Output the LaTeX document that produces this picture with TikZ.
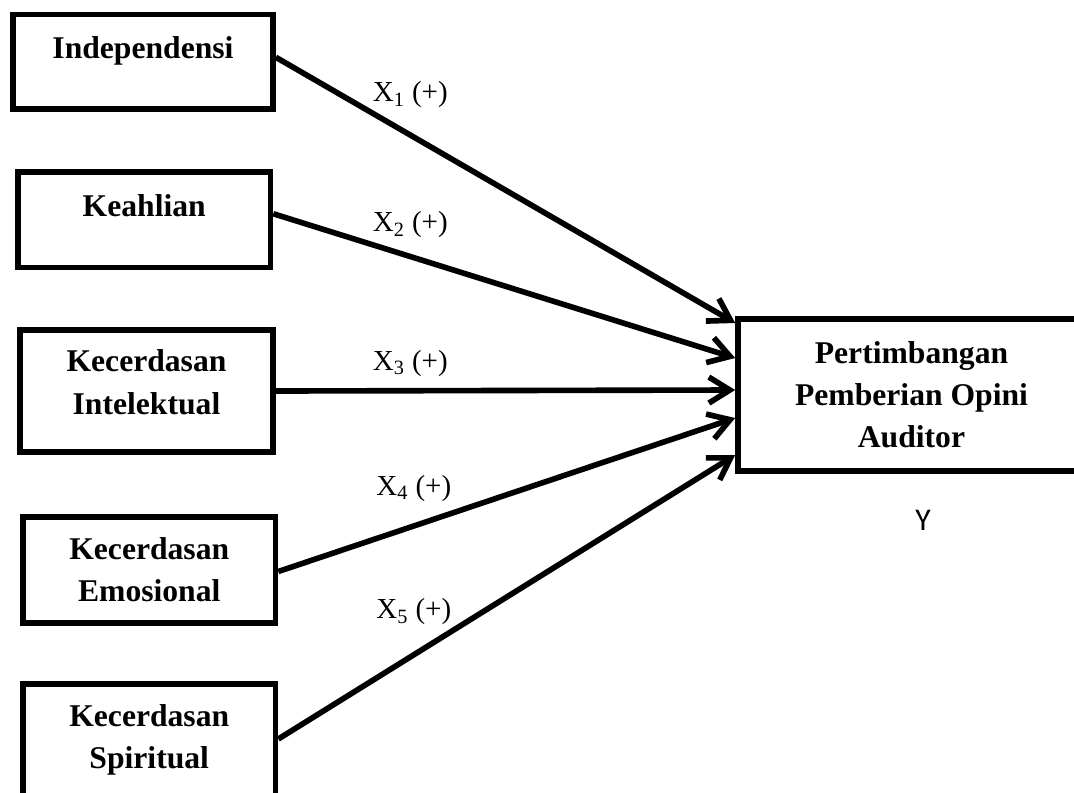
\documentclass[tikz,border=0pt]{standalone}
\usepackage{fontspec}
\setmainfont{Liberation Serif}
\newfontfamily\ysans{Carlito}
\usetikzlibrary{arrows.meta, positioning}

\begin{document}
\begin{tikzpicture}[
    box/.style={draw, line width=3.2pt, rectangle, align=center, inner sep=0pt,
      font=\fontsize{18}{24}\selectfont\bfseries},
    tophigh/.style={text height=0.5cm, text depth=0.64cm},
    link/.style={line width=3.2pt, -{Straight Barb[length=0.42cm, width=0.52cm]}},
    lbl/.style={anchor=base west, inner sep=0pt, font=\fontsize{16.5}{20}\selectfont}
  ]
    \useasboundingbox (0, 0) rectangle (21.48, -15.84);
    \clip (0, 0) rectangle (21.48, -15.84);

    % independent variables
    \node[box, tophigh, minimum width=5.2cm, minimum height=1.89cm] (ind) at (2.86, -1.235) {Independensi};
    \node[box, tophigh, minimum width=5.05cm, minimum height=1.91cm] (ahli) at (2.885, -4.395) {Keahlian};
    \node[box, text height=1.28cm, text depth=0.36cm, minimum width=5.06cm, minimum height=2.44cm] (intel) at (2.93, -7.82) {Kecerdasan\\Intelektual};
    \node[box, minimum width=5.05cm, minimum height=2.12cm] (emo) at (2.985, -11.4) {Kecerdasan\\Emosional};
    \node[box, minimum width=5.05cm, minimum height=2.24cm] (spi) at (2.985, -14.8) {Kecerdasan\\Spiritual};

    % dependent variable
    \node[box, minimum width=6.94cm, minimum height=3.04cm] (opini) at (18.23, -7.9) {Pertimbangan\\Pemberian Opini\\Auditor};
    \node[anchor=base, inner sep=0pt, font=\ysans\fontsize{18}{22}\selectfont] (y) at (18.46, -10.6) {Y};

    \draw[link] ([yshift=0.09cm]ind.east) -- ([yshift=1.44cm]opini.west);
    \draw[link] ([yshift=0.12cm]ahli.east) -- ([yshift=0.74cm]opini.west);
    \draw[link] (intel.east) -- ([yshift=0.1cm]opini.west);
    \draw[link] ([yshift=-0.03cm]emo.east) -- ([yshift=-0.46cm]opini.west);
    \draw[link] ([yshift=0.02cm]spi.east) -- ([yshift=-1.2cm]opini.west);

    \node[lbl] (x1) at (7.45, -2.03) {X\textsubscript{1} (+)};
    \node[lbl] (x2) at (7.45, -4.63) {X\textsubscript{2} (+)};
    \node[lbl] (x3) at (7.45, -7.4) {X\textsubscript{3} (+)};
    \node[lbl] (x4) at (7.52, -9.9) {X\textsubscript{4} (+)};
    \node[lbl] (x5) at (7.52, -12.37) {X\textsubscript{5} (+)};
\end{tikzpicture}
\end{document}
